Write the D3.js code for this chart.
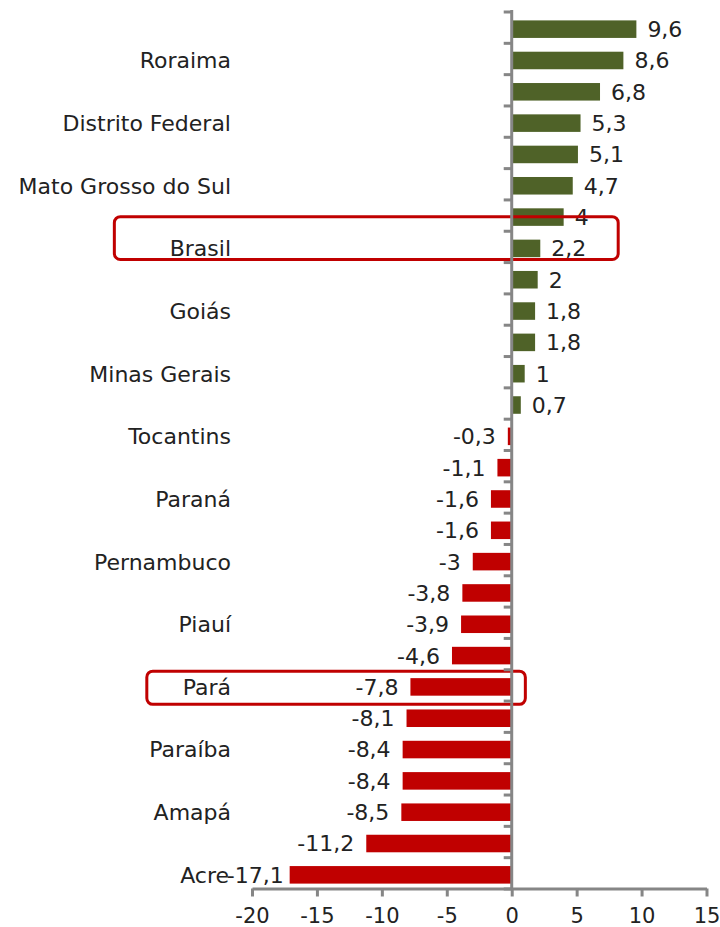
<!DOCTYPE html>
<html>
<head>
<meta charset="utf-8">
<script src="https://cdn.jsdelivr.net/npm/d3@7"></script>
<style>
  body { margin: 0; background: #fff; }
  text { font-family: "DejaVu Sans", Verdana, sans-serif; fill: #222; }
</style>
</head>
<body>
<div id="grafico"></div>
<script>
// rotulos visiveis (Excel so mostra um sim, um nao)
var estados = ["", "Roraima", "", "Distrito Federal", "", "Mato Grosso do Sul", "", "Brasil",
  "", "Goiás", "", "Minas Gerais", "", "Tocantins", "", "Paraná", "", "Pernambuco",
  "", "Piauí", "", "Pará", "", "Paraíba", "", "Amapá", "", "Acre"];

var valores = [9.6, 8.6, 6.8, 5.3, 5.1, 4.7, 4, 2.2, 2, 1.8, 1.8, 1, 0.7, -0.3,
  -1.1, -1.6, -1.6, -3, -3.8, -3.9, -4.6, -7.8, -8.1, -8.4, -8.4, -8.5, -11.2, -17.1];

var ticksX = [-20, -15, -10, -5, 0, 5, 10, 15];

// caixas de destaque: linha, inicio/fim em valor do eixo x, extensao em linhas
var destaques = [
  {linha: 7, x0: -30.6, x1: 8.2, acima: 0.45, abaixo: -0.08},
  {linha: 21, x0: -28.1, x1: 1.05, acima: -0.06, abaixo: 0.12}
];

var dados = valores.map(function(v, i) { return {i: i, nome: estados[i], valor: v}; });

var largura = 720, altura = 927;
var topo = 11.5, base = 888.5;
var fonte = "22px";

var svg = d3.select("#grafico")
  .append("svg")
    .attr("width", largura)
    .attr("height", altura);

var x = d3.scaleLinear()
  .domain([-20, 15])
  .range([252, 706.5]);

var y = d3.scaleBand()
  .domain(d3.range(valores.length))
  .range([topo, base])
  .paddingInner(0.44)
  .paddingOuter(0.22);

var yLinha = d3.scaleLinear()
  .domain([0, valores.length])
  .range([topo, base]);

var desloc = 2;

// barras
svg.selectAll(".barra")
  .data(dados)
  .enter()
  .append("rect")
    .attr("class", "barra")
    .attr("x", function(d) { return x(Math.min(0, d.valor)); })
    .attr("y", function(d) { return y(d.i) + desloc; })
    .attr("width", function(d) { return Math.abs(x(d.valor) - x(0)); })
    .attr("height", y.bandwidth())
    .style("fill", function(d) { return d.valor >= 0 ? "#4f6228" : "#c00000"; });

// valores
svg.selectAll(".valor")
  .data(dados)
  .enter()
  .append("text")
    .attr("class", "valor")
    .attr("x", function(d) {
      if (d.valor >= 0) return x(d.valor) + 11;
      return x(d.valor) - (d.valor < -15 ? 6 : 12);
    })
    .attr("y", function(d) { return y(d.i) + desloc + y.bandwidth() / 2; })
    .attr("dy", "0.36em")
    .attr("text-anchor", function(d) { return d.valor >= 0 ? "start" : "end"; })
    .style("font-size", fonte)
    .text(function(d) { return String(d.valor).replace(".", ","); });

// nomes
svg.selectAll(".nome")
  .data(dados.filter(function(d) { return d.nome !== ""; }))
  .enter()
  .append("text")
    .attr("class", "nome")
    .attr("x", function(d) { return d.valor < -15 ? 229 : 231; })
    .attr("y", function(d) { return y(d.i) + desloc + y.bandwidth() / 2; })
    .attr("dy", "0.36em")
    .attr("text-anchor", "end")
    .style("font-size", fonte)
    .text(function(d) { return d.nome; });

// caixas vermelhas
svg.selectAll(".destaque")
  .data(destaques)
  .enter()
  .append("rect")
    .attr("class", "destaque")
    .attr("x", function(d) { return x(d.x0); })
    .attr("y", function(d) { return yLinha(d.linha - d.acima); })
    .attr("width", function(d) { return x(d.x1) - x(d.x0); })
    .attr("height", function(d) { return yLinha(d.linha + 1 + d.abaixo) - yLinha(d.linha - d.acima); })
    .attr("rx", 6)
    .style("fill", "none")
    .style("stroke", "#c00000")
    .style("stroke-width", 3);

// eixo vertical
var eixoY = svg.append("g")
  .attr("transform", "translate(" + x(0) + ",0)")
  .call(d3.axisLeft(yLinha).ticks(valores.length).tickSize(8).tickSizeOuter(0).tickFormat(""));

// eixo horizontal
var eixoX = svg.append("g")
  .attr("transform", "translate(0," + base + ")")
  .call(d3.axisBottom(x).tickValues(ticksX).tickSize(8).tickSizeOuter(0).tickPadding(12)
    .tickFormat(function(d) { return d; }));

eixoY.attr("font-family", null);
eixoX.attr("font-family", null);
eixoX.selectAll("text").style("font-size", "21px").style("fill", "#222");

svg.selectAll(".domain, .tick line")
  .style("stroke", "#868686")
  .style("stroke-width", 3);
eixoY.select(".domain").attr("d", "M0," + (topo - 1.5) + "V" + (base + 1.5));
</script>
</body>
</html>
